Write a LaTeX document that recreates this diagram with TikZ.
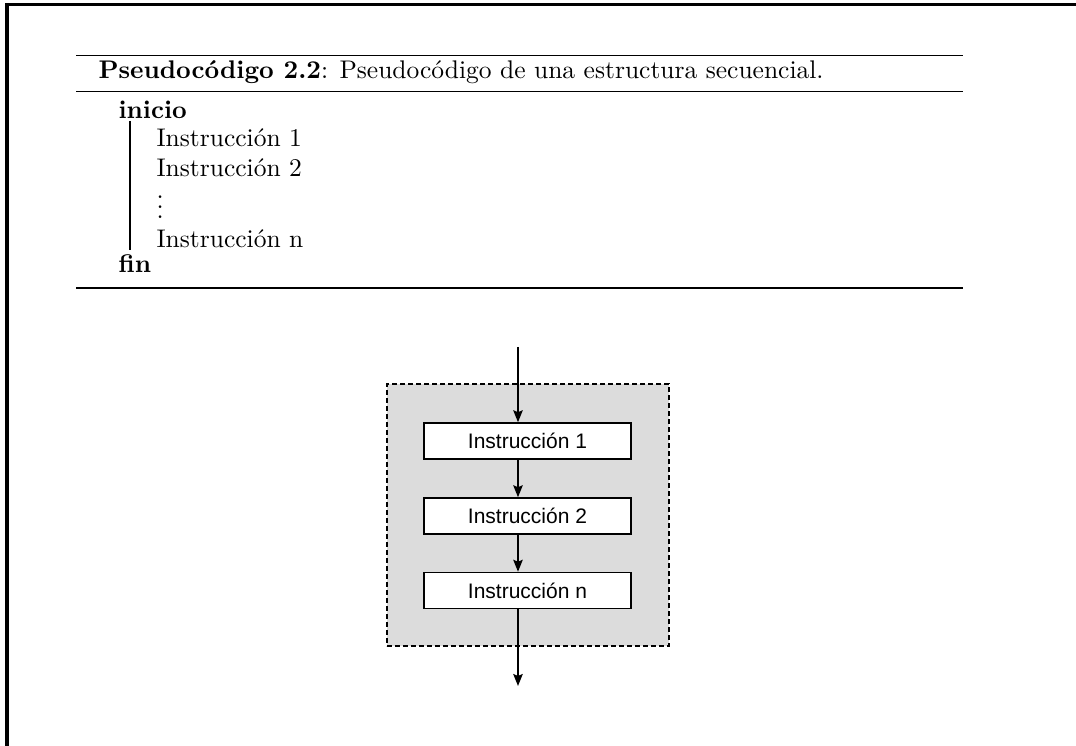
\documentclass[tikz,border=0pt]{standalone}
\usepackage{fontspec}
\newfontfamily\diagfont{Liberation Sans}
\usetikzlibrary{arrows.meta}
\definecolor{fondo}{RGB}{220,220,220}

\begin{document}
\begin{tikzpicture}[x=0.4pt,y=-0.4pt,
    regla/.style={line width=0.7pt},
    linea/.style={anchor=base west,inner sep=0pt,font=\fontsize{10.2}{12}\selectfont},
    instr/.style={draw,line width=0.6pt,fill=white,minimum width=82.8pt,minimum height=14.4pt,inner sep=0pt,font=\diagfont\fontsize{8.4}{9}\selectfont},
    bloque/.style={draw,dash pattern=on 2pt off 1.2pt,line width=0.5pt,fill=fondo,minimum width=112.8pt,minimum height=104.8pt,inner sep=0pt},
    flecha/.style={-{Stealth[length=4.8pt,width=3.8pt,inset=0.8pt]},line width=0.6pt}]
  \useasboundingbox (0,0) rectangle (1076,746);
  % marco
  \draw[line width=1.2pt] (7,746) -- (7,5) -- (1076,5);
  % pseudocodigo
  \draw[regla] (76,55.5) -- (963,55.5);
  \draw[regla] (76,91.5) -- (963,91.5);
  \draw[regla] (76,288) -- (963,288);
  \draw(98,79) node[linea] (tit) {\textbf{Pseudocódigo 2.2}: Pseudocódigo de una estructura secuencial.};
  \draw(118,119) node[linea] (ini) {\textbf{inicio}};
  \draw(156,147) node[linea] (p1) {Instrucción 1};
  \draw(156,177) node[linea] (p2) {Instrucción 2};
  \draw(156,219) node[linea,text height=6pt] (pp) {$\vdots$};
  \draw(156,248) node[linea] (pn) {Instrucción n};
  \draw(118,273) node[linea] (fin) {\textbf{fin}};
  \draw[line width=0.5pt] (130,121) -- (130,250);
  % diagrama
  \draw(528,515) node[bloque] (B) {};
  \draw(527.5,441) node[instr] (I1) {Instrucción 1};
  \draw(527.5,516) node[instr] (I2) {Instrucción 2};
  \draw(527.5,590.5) node[instr] (In) {Instrucción n};
  \coordinate (top) at (518,347);
  \coordinate (bot) at (518,686);
  \draw[flecha] (top) -- (top |- I1.north);
  \draw[flecha] (I1.south -| top) -- (I2.north -| top);
  \draw[flecha] (I2.south -| top) -- (In.north -| top);
  \draw[flecha] (In.south -| top) -- (bot);
\end{tikzpicture}
\end{document}
